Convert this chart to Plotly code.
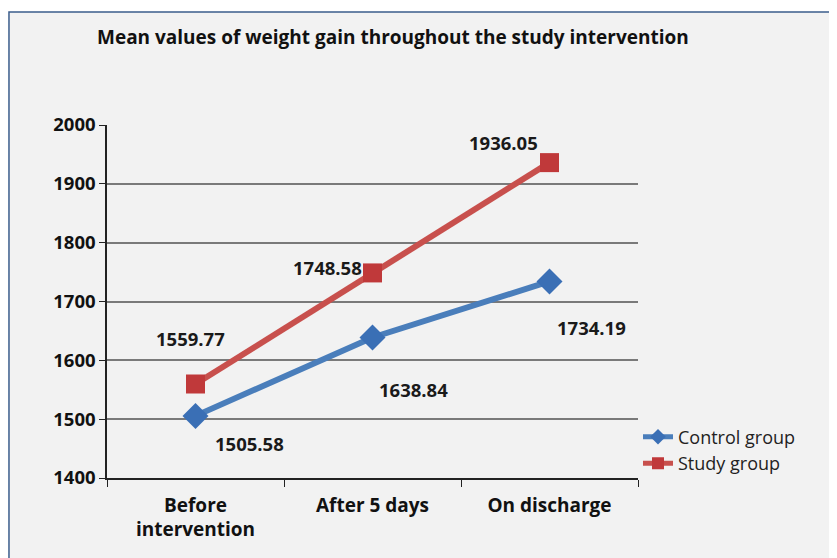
import plotly.graph_objects as go

categories = ["Before<br>intervention", "After 5 days", "On discharge"]
control_values = [1505.58, 1638.84, 1734.19]
study_values = [1559.77, 1748.58, 1936.05]
series_names = ["Control group", "Study group"]
y_ticks = [1400, 1500, 1600, 1700, 1800, 1900, 2000]
title_text = "Mean values of weight gain throughout the study intervention"

FONT = "Open Sans"
fig = go.Figure()
fig.add_trace(go.Scatter(
    x=categories, y=control_values, name=series_names[0], mode="lines+markers",
    line=dict(color="#4a7ebb", width=6),
    marker=dict(symbol="diamond", size=20, color="#3a6fb5"),
))
fig.add_trace(go.Scatter(
    x=categories, y=study_values, name=series_names[1], mode="lines+markers",
    line=dict(color="#c8504d", width=6),
    marker=dict(symbol="square", size=19, color="#c0393a"),
))

# data labels (offsets per point)
ctrl_off = [(54, -28), (41, -52), (42, -46)]
study_off = [(-5, 46), (-45, 5), (-46, 20)]
for i, v in enumerate(control_values):
    fig.add_annotation(x=categories[i], y=v, text=f"{v:.2f}", showarrow=False,
                       xshift=ctrl_off[i][0], yshift=ctrl_off[i][1],
                       font=dict(family=FONT, size=18.5, color="#1a1a1a", weight="bold"))
for i, v in enumerate(study_values):
    fig.add_annotation(x=categories[i], y=v, text=f"{v:.2f}", showarrow=False,
                       xshift=study_off[i][0], yshift=study_off[i][1],
                       font=dict(family=FONT, size=18.5, color="#1a1a1a", weight="bold"))

fig.add_annotation(xref="paper", yref="paper", x=-0.0226, y=1.249, xanchor="left", yanchor="middle",
                   text=title_text, showarrow=False,
                   font=dict(family=FONT, size=19, color="#111111", weight="bold"))

fig.add_shape(type="rect", xref="paper", yref="paper", x0=-0.1846, x1=2.0, y0=-1.0, y1=1.32,
              fillcolor="#f2f2f2", line=dict(color="#3b5d8c", width=1.5), layer="below")

fig.update_layout(
    width=837, height=558,
    margin=dict(l=99, r=207, t=117, b=88),
    paper_bgcolor="white", plot_bgcolor="rgba(0,0,0,0)",
    font=dict(family=FONT, size=15, color="#111111"),
    showlegend=True,
    legend=dict(x=1.0, y=0.079, xanchor="left", yanchor="middle",
                font=dict(family=FONT, size=18, color="#222222"),
                bgcolor="rgba(0,0,0,0)", itemwidth=30, tracegroupgap=0,
                itemsizing="constant"),
    xaxis=dict(type="category", showgrid=False, showline=True, linecolor="#222222", linewidth=1.5,
               ticks="outside", tickson="boundaries", ticklen=7, tickcolor="#222222",
               ticklabelstandoff=9,
               tickfont=dict(family=FONT, size=19, weight="bold"), range=[-0.5, 2.5]),
    yaxis=dict(range=[1400, 2000], tickvals=y_ticks, showgrid=True, gridcolor="#7a7a7a", gridwidth=2,
               showline=True, linecolor="#222222", linewidth=1.5, ticks="outside", ticklen=6,
               tickcolor="#222222", zeroline=False,
               tickfont=dict(family=FONT, size=18.5, weight="bold")),
)
fig.write_html("out.html")
